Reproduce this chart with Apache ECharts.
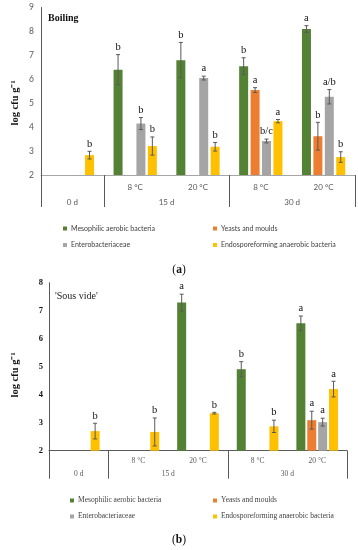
<!DOCTYPE html>
<html><head><meta charset="utf-8">
<script src="https://cdn.jsdelivr.net/npm/echarts@6/dist/echarts.min.js"></script>
<style>html,body{margin:0;padding:0;background:#fff}#c{width:358px;height:550px}</style>
</head><body><div id="c"></div>
<script>
// ---- shared categories / labels ----
const subLabels = ['', '8 °C', '20 °C', '8 °C', '20 °C'];
const groupLabels = ['0 d', '15 d', '30 d'];
const groupCenters = [0.5, 2, 4];
const groupBounds = [0, 1, 3, 5];
const seriesNames = ['Mesophilic aerobic bacteria', 'Yeasts and moulds', 'Enterobacteriaceae', 'Endosporeforming anaerobic bacteria'];
const colors = ['#548235', '#ED7D31', '#A5A5A5', '#FFC000'];

// ---- (a) Boiling ----
const mesoBoil   = [null, 6.40, 6.80, 6.55, 8.10];
const yeastBoil  = [null, null, null, 5.55, 3.62];
const enteroBoil = [null, 4.15, 6.05, 3.42, 5.27];
const endoBoil   = [2.83, 3.21, 3.18, 4.25, 2.75];
const mesoBoilErr   = [null, 0.63, 0.74, 0.35, 0.14];
const yeastBoilErr  = [null, null, null, 0.10, 0.58];
const enteroBoilErr = [null, 0.25, 0.08, 0.08, 0.30];
const endoBoilErr   = [0.16, 0.38, 0.18, 0.07, 0.22];
const mesoBoilLet   = [null, 'b', 'b', 'b', 'a'];
const yeastBoilLet  = [null, null, null, 'a', 'b'];
const enteroBoilLet = [null, 'b', 'a', 'b/c', 'a/b'];
const endoBoilLet   = ['b', 'b', 'b', 'a', 'b'];
const boilTicks = [2, 3, 4, 5, 6, 7, 8, 9];

// ---- (b) Sous vide ----
const mesoSv   = [null, null, 7.29, 4.91, 6.55];
const yeastSv  = [null, null, null, null, 3.09];
const enteroSv = [null, null, null, null, 3.02];
const endoSv   = [2.70, 2.67, 3.34, 2.87, 4.20];
const mesoSvErr   = [null, null, 0.30, 0.27, 0.26];
const yeastSvErr  = [null, null, null, null, 0.32];
const enteroSvErr = [null, null, null, null, 0.14];
const endoSvErr   = [0.28, 0.50, 0.03, 0.22, 0.28];
const mesoSvLet   = [null, null, 'a', 'b', 'a'];
const yeastSvLet  = [null, null, null, null, 'a'];
const enteroSvLet = [null, null, null, null, 'a'];
const endoSvLet   = ['b', 'b', 'b', 'b', 'a'];
const svTicks = [2, 3, 4, 5, 6, 7, 8];

const SERIF = 'Liberation Serif';
const SANS = 'Lato';

const chart = echarts.init(document.getElementById('c'), null, {renderer: 'canvas'});

const BW = 9;
const gapTop = 0.27, gapBot = 0.21;

function barSeries(gi, k, vals, gap) {
  return {
    type: 'bar', name: seriesNames[k], xAxisIndex: gi * 2, yAxisIndex: gi,
    data: vals.map(v => v == null ? '-' : v),
    barWidth: BW, barGap: (gap * 100) + '%',
    itemStyle: {color: colors[k]}, silent: true, z: 2
  };
}
function errSeries(gi, k, vals, errs, lets, gap) {
  const items = [];
  vals.forEach((v, i) => { if (v != null) items.push({i: i, v: v, e: errs[i], l: lets[i]}); });
  const pitch = BW * (1 + gap);
  return {
    type: 'custom', xAxisIndex: gi * 2, yAxisIndex: gi, silent: true, z: 5,
    data: items.map(o => [o.i, o.v, o.e]),
    renderItem: function (params, api) {
      const o = items[params.dataIndex];
      const base = api.coord([o.i, o.v]);
      const x = base[0] + (k - 1.5) * pitch;
      const yT = api.coord([o.i, o.v + o.e])[1];
      const yB = api.coord([o.i, o.v - o.e])[1];
      const st = {stroke: '#595959', lineWidth: 1};
      return {
        type: 'group', children: [
          {type: 'line', shape: {x1: x, y1: yT, x2: x, y2: yB}, style: st},
          {type: 'line', shape: {x1: x - 2, y1: yT, x2: x + 2, y2: yT}, style: st},
          {type: 'line', shape: {x1: x - 2, y1: yB, x2: x + 2, y2: yB}, style: st},
          {type: 'text', x: x, y: yT - 2, style: {text: o.l, fill: '#111', font: '10.5px "' + SERIF + '"', textAlign: 'center', textVerticalAlign: 'bottom'}}
        ]
      };
    }
  };
}

function xAxesFor(gi, opts) {
  return [
    {
      type: 'category', gridIndex: gi, data: subLabels, position: 'bottom',
      axisLine: {show: true, lineStyle: {color: opts.lineColor, width: 1}},
      axisTick: {show: false},
      axisLabel: {interval: 0, margin: opts.subMargin, fontFamily: opts.font, fontSize: opts.fs, color: '#595959'},
      splitLine: {show: false}
    },
    {
      type: 'value', gridIndex: gi, min: 0, max: 5, position: 'bottom', offset: 0,
      axisLine: {show: false},
      axisTick: {show: true, customValues: groupBounds, length: opts.tickLen, lineStyle: {color: '#595959', width: 1}},
      axisLabel: {show: true, customValues: groupCenters, margin: opts.grpMargin, fontFamily: opts.font, fontSize: opts.fs, color: '#595959',
        formatter: v => { const j = groupCenters.indexOf(v); return j >= 0 ? groupLabels[j] : ''; }},
      splitLine: {show: false}
    }
  ];
}

function legendsFor(top1, top2, left1, left2, font, fs) {
  const pos = [[left1, top1], [left2, top1], [left1, top2], [left2, top2]];
  return seriesNames.map((n, k) => ({
    data: [n], left: pos[k][0], top: pos[k][1], padding: 0, itemWidth: 4, itemHeight: 4,
    icon: 'rect', selectedMode: false, itemGap: 0,
    textStyle: {fontFamily: font, fontSize: fs, color: '#404040', padding: [0, 0, 0, -1]}
  }));
}

const option = {
  animation: false,
  grid: [
    {left: 41, top: 7.5, width: 314, height: 167.5},
    {left: 49, top: 282.7, width: 298, height: 168}
  ],
  xAxis: [
    ...xAxesFor(0, {lineColor: '#a6a6a6', subMargin: 8, grpMargin: 23, tickLen: 32, font: SANS, fs: 8}),
    ...xAxesFor(1, {lineColor: '#595959', subMargin: 6, grpMargin: 19, tickLen: 28, font: SERIF, fs: 7.5})
  ],
  yAxis: [
    {type: 'value', gridIndex: 0, min: boilTicks[0], max: boilTicks[boilTicks.length - 1], interval: 1,
      axisLine: {show: true, lineStyle: {color: '#595959'}}, axisTick: {show: false}, splitLine: {show: false},
      axisLabel: {margin: 7, fontFamily: SANS, fontSize: 8.5, color: '#595959'}},
    {type: 'value', gridIndex: 1, min: svTicks[0], max: svTicks[svTicks.length - 1], interval: 1,
      axisLine: {show: true, lineStyle: {color: '#595959'}}, axisTick: {show: false}, splitLine: {show: false},
      axisLabel: {margin: 6, fontFamily: SERIF, fontSize: 8.5, fontWeight: 'bold', color: '#111'}}
  ],
  legend: [
    ...legendsFor(225, 241.5, 63, 213, SANS, 7),
    ...legendsFor(496.5, 512.5, 70, 213, SERIF, 7.5)
  ],
  graphic: [
    {type: 'text', left: 48, top: 13, style: {text: 'Boiling', font: 'bold 10px "' + SERIF + '"', fill: '#111'}},
    {type: 'text', left: 55, top: 291, style: {text: "'Sous vide'", font: '10px "' + SERIF + '"', fill: '#222'}},
    {type: 'text', x: 15, y: 103, rotation: Math.PI / 2, style: {text: 'log cfu g⁻¹', font: 'bold 10.5px "' + SERIF + '"', fill: '#111', textAlign: 'center', textVerticalAlign: 'middle'}},
    {type: 'text', x: 15, y: 375, rotation: Math.PI / 2, style: {text: 'log cfu g⁻¹', font: 'bold 10.5px "' + SERIF + '"', fill: '#111', textAlign: 'center', textVerticalAlign: 'middle'}},
    {type: 'text', x: 179, y: 270, style: {text: '{p|(}{b|a}{p|)}', textAlign: 'center', textVerticalAlign: 'middle',
      rich: {p: {fontFamily: SERIF, fontSize: 11.5, fill: '#111'}, b: {fontFamily: SERIF, fontSize: 11.5, fontWeight: 'bold', fill: '#111'}}}},
    {type: 'text', x: 179, y: 540, style: {text: '{p|(}{b|b}{p|)}', textAlign: 'center', textVerticalAlign: 'middle',
      rich: {p: {fontFamily: SERIF, fontSize: 11.5, fill: '#111'}, b: {fontFamily: SERIF, fontSize: 11.5, fontWeight: 'bold', fill: '#111'}}}}
  ],
  series: [
    barSeries(0, 0, mesoBoil, gapTop), barSeries(0, 1, yeastBoil, gapTop), barSeries(0, 2, enteroBoil, gapTop), barSeries(0, 3, endoBoil, gapTop),
    errSeries(0, 0, mesoBoil, mesoBoilErr, mesoBoilLet, gapTop),
    errSeries(0, 1, yeastBoil, yeastBoilErr, yeastBoilLet, gapTop),
    errSeries(0, 2, enteroBoil, enteroBoilErr, enteroBoilLet, gapTop),
    errSeries(0, 3, endoBoil, endoBoilErr, endoBoilLet, gapTop),
    barSeries(1, 0, mesoSv, gapBot), barSeries(1, 1, yeastSv, gapBot), barSeries(1, 2, enteroSv, gapBot), barSeries(1, 3, endoSv, gapBot),
    errSeries(1, 0, mesoSv, mesoSvErr, mesoSvLet, gapBot),
    errSeries(1, 1, yeastSv, yeastSvErr, yeastSvLet, gapBot),
    errSeries(1, 2, enteroSv, enteroSvErr, enteroSvLet, gapBot),
    errSeries(1, 3, endoSv, endoSvErr, endoSvLet, gapBot)
  ]
};
chart.setOption(option);
</script>
</body></html>
